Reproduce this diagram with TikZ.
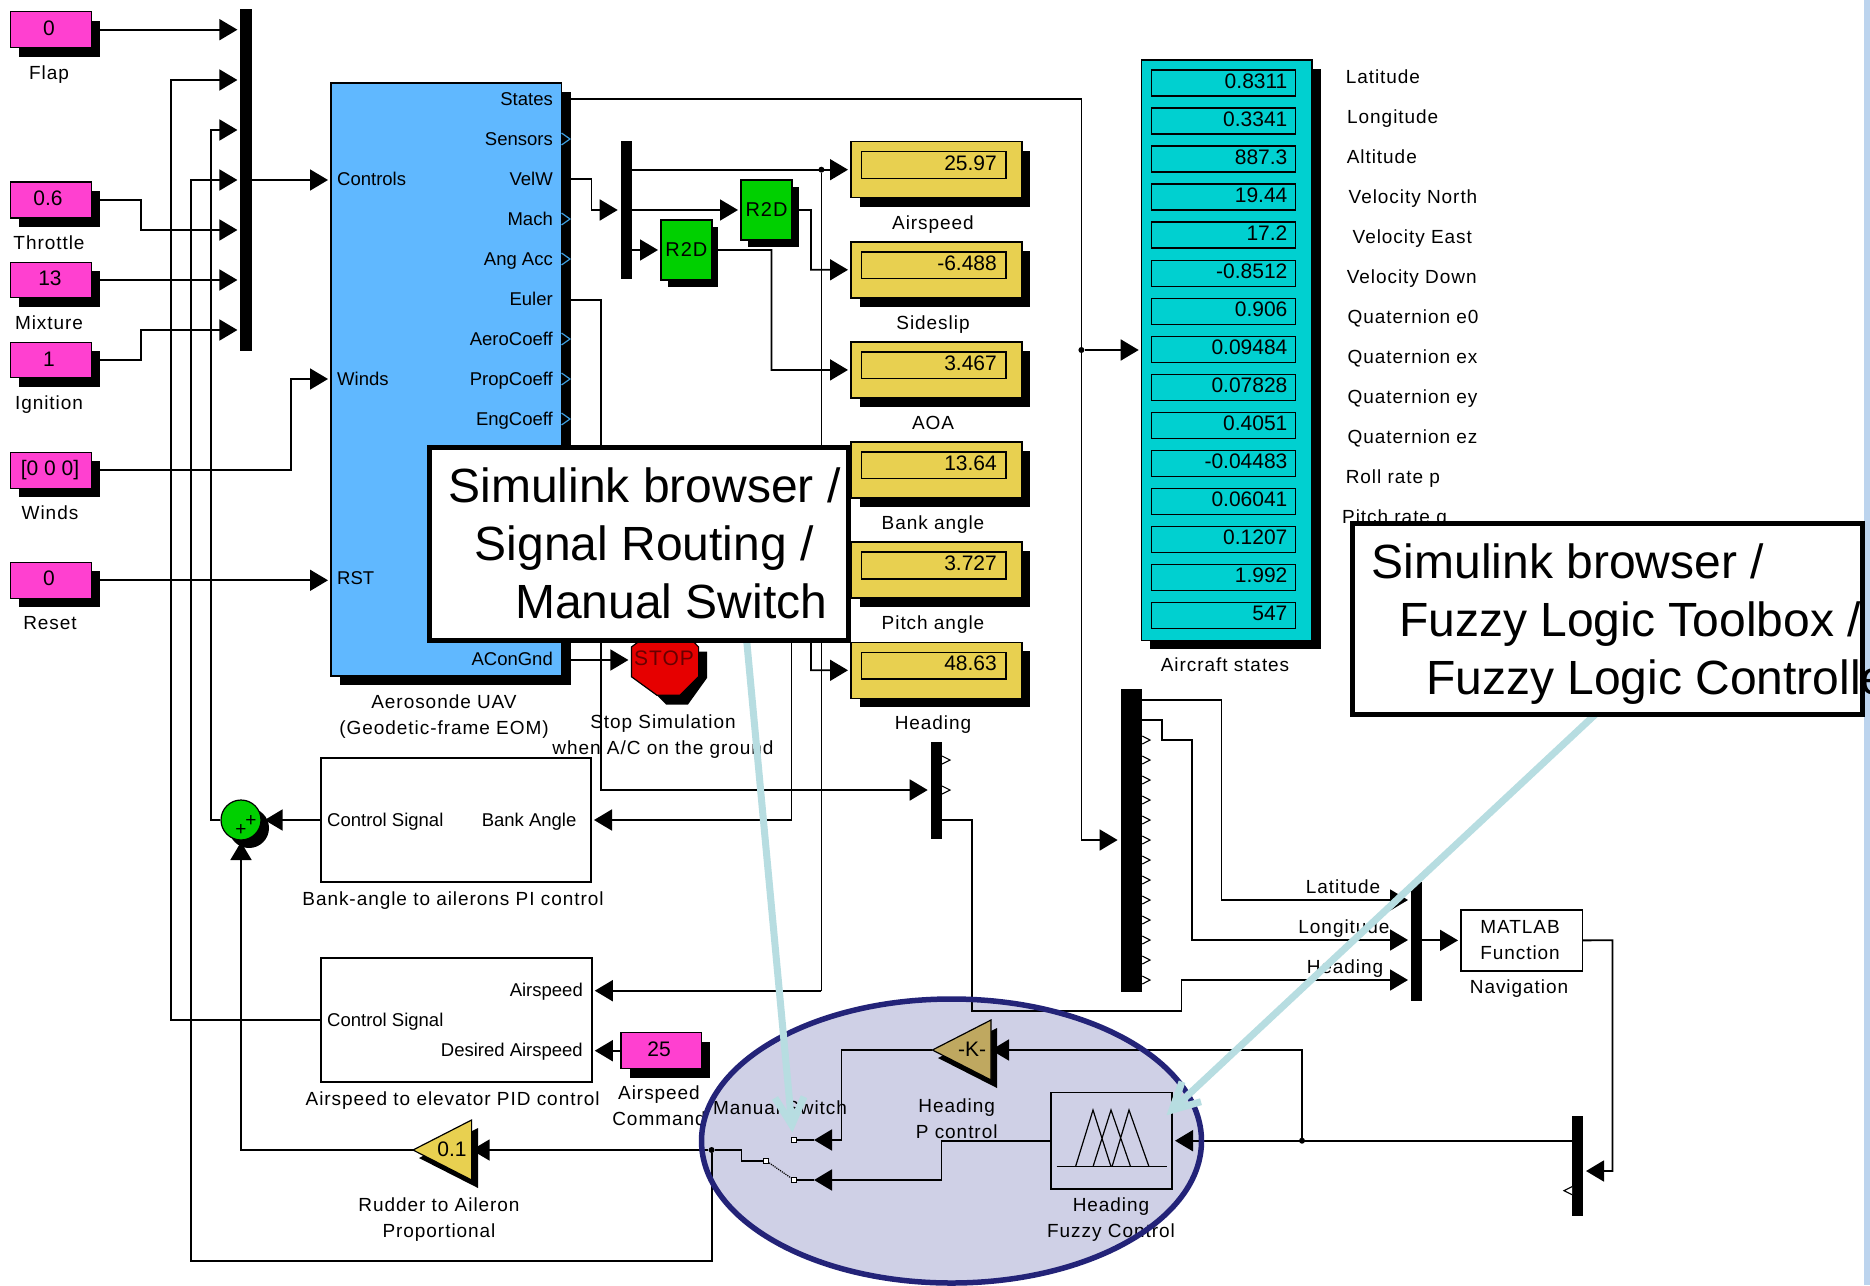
\documentclass[tikz,border=0pt]{standalone}
\usepackage{fontspec}
\setmainfont{Liberation Sans}
\newfontfamily\lblfam[LetterSpace=5]{Liberation Sans}
\usetikzlibrary{arrows.meta,shadows,calc}
\definecolor{cmag}{HTML}{FF40D0}
\definecolor{cblue}{HTML}{60B8FF}
\definecolor{cgold}{HTML}{E8D050}
\definecolor{ccyan}{HTML}{00D0D0}
\definecolor{cgreen}{HTML}{00D000}
\definecolor{cred}{HTML}{E60000}
\definecolor{ckg}{HTML}{BFA860}
\definecolor{cell}{HTML}{CFD0E6}
\definecolor{cnavy}{HTML}{232378}
\definecolor{clight}{HTML}{B7DDE1}
\definecolor{cband}{HTML}{BCD4EE}
\definecolor{cport}{HTML}{3F9FE0}
\tikzset{
  shad/.style={drop shadow={shadow xshift=8.5pt,shadow yshift=-9pt,fill=black,opacity=1}},
  wire/.style={draw=black,line width=1.8pt},
  arr/.style={-{Triangle[length=18pt,width=21pt]},shorten >=3pt},
  arrz/.style={-{Triangle[length=18pt,width=21pt]}},
  bar/.style={fill=black,draw=none},
  src/.style={draw=black,line width=1.5pt,fill=cmag,shad},
  sub/.style={draw=black,line width=1.8pt,fill=white},
  prt/.style={inner sep=0pt,text height=13.5pt,text depth=.5pt,font=\fontsize{18.5}{24}\selectfont},
  lbl/.style={inner sep=0pt,text height=13.5pt,text depth=.5pt,font=\lblfam\fontsize{19}{26}\selectfont},
  mlbl/.style={inner sep=0pt,align=center,font=\lblfam\fontsize{19}{26}\selectfont},
  numv/.style={inner sep=0pt,text height=15pt,text depth=0pt,font=\fontsize{21}{24}\selectfont},
  jdot/.style={circle,fill=black,inner sep=0pt,minimum size=6pt},
  swt/.style={rectangle,draw=black,line width=1.2pt,fill=white,inner sep=0pt,minimum size=5pt},
  lightarr/.style={draw=clight,line width=7pt},
  callout/.style={draw=black,fill=white,line width=5pt,inner sep=0pt},
  bigtxt/.style={inner sep=0pt,align=left,anchor=north west,font=\fontsize{48}{58}\selectfont},
}
\newcommand{\blk}[7]{\node[#2,anchor=north west,inner sep=0pt,outer sep=0pt,minimum width={((#5)-(#3))*1pt},minimum height={((#6)-(#4))*1pt}] (#1) at (#3,#4) {#7};}
\begin{document}
\begin{tikzpicture}[x=1pt,y=-1pt]
\useasboundingbox (0,0) rectangle (1870,1285);
\fill[white] (0,0) rectangle (1870,1285);
\fill[cband] (1864,0) rectangle (1870,1285);

% sources
\blk{flap}{src}{10.7}{11.7}{91.7}{47.7}{}
\blk{thr}{src}{10.7}{182}{91.7}{218}{}
\blk{mix}{src}{10.7}{262.3}{91.7}{297.7}{}
\blk{ign}{src}{10.7}{342.3}{91.7}{377.7}{}
\blk{win}{src}{10.7}{452.3}{91.7}{488.3}{}
\blk{rst}{src}{10.7}{562.3}{91.7}{598.3}{}
\node[numv] (vflap) at (49,28) {0};
\node[numv] (vthr) at (48,198) {0.6};
\node[numv] (vmix) at (50,278) {13};
\node[numv] (vign) at (49,359) {1};
\node[numv] (vwin) at (50,468) {[0 0 0]};
\node[numv] (vrst) at (49,578) {0};
\node[lbl] (lflap) at (49,72.7) {Flap};
\node[lbl] (lthr) at (49,242.7) {Throttle};
\node[lbl] (lmix) at (49,322.7) {Mixture};
\node[lbl] (lign) at (49,403) {Ignition};
\node[lbl] (lwin) at (50,512.7) {Winds};
\node[lbl] (lrst) at (50,622.7) {Reset};

% mux bars
\blk{muxA}{bar}{240.4}{9.3}{252}{350.7}{}
\blk{muxB}{bar}{620.7}{140.7}{632}{279}{}
\blk{muxC}{bar}{930.7}{741.7}{942}{839.3}{}
\blk{muxD}{bar}{1120.6}{689}{1142.3}{991.7}{}
\blk{muxE}{bar}{1411}{881.7}{1422}{1001}{}
\blk{muxF}{bar}{1572}{1116}{1583}{1215.7}{}

% main block
\blk{main}{draw=black,line width=1.5pt,fill=cblue,drop shadow={shadow xshift=9pt,shadow yshift=-8.5pt,fill=black,opacity=1}}{331}{83}{561.5}{676}{}
\node[prt,anchor=west] (pctl) at (337,178.7) {Controls};
\node[prt,anchor=west] (pwin) at (337,379) {Winds};
\node[prt,anchor=west] (prst) at (337,578) {RST};
\foreach \t/\y [count=\i] in {States/99,Sensors/139,VelW/179,Mach/219,Ang Acc/259,Euler/299,AeroCoeff/339,PropCoeff/379,EngCoeff/419,AConGnd/659}
  \node[prt,anchor=east] (po\i) at (553,\y) {\t};
\foreach \y in {139,219,259,339,379,419}
  \draw[cport,line width=1.2pt] (561.5,\y-6) -- (570,\y) -- (561.5,\y+6);
\node[mlbl] (lmain) at (444,716.5) {Aerosonde UAV\\(Geodetic-frame EOM)};

% R2D
\blk{rda}{draw=black,line width=1.5pt,fill=cgreen,drop shadow={shadow xshift=6.5pt,shadow yshift=-7pt,fill=black,opacity=1},font=\lblfam\fontsize{20}{24}\selectfont}{741}{180}{792}{240}{R2D}
\blk{rdb}{draw=black,line width=1.5pt,fill=cgreen,drop shadow={shadow xshift=6.5pt,shadow yshift=-7pt,fill=black,opacity=1},font=\lblfam\fontsize{20}{24}\selectfont}{661}{220}{711.8}{280}{R2D}

% displays
\foreach \v/\l [count=\i] in {25.97/Airspeed,-6.488/Sideslip,3.467/AOA,13.64/Bank angle,3.727/Pitch angle,48.63/Heading}{
  \pgfmathsetmacro{\ty}{141.7+100.12*(\i-1)}
  \blk{disp\i}{draw=black,line width=1.5pt,fill=cgold,shad}{851}{\ty}{1021.8}{\ty+56}{}
  \blk{dispin\i}{draw=black,line width=1.5pt}{861.4}{\ty+10}{1006}{\ty+36.6}{}
  \node[numv,anchor=east] (dv\i) at (997,\ty+21) {\v};
  \node[lbl] (dl\i) at (933,\ty+81) {\l};
}

% state panel
\blk{panel}{draw=black,line width=1.5pt,fill=ccyan,shad}{1141.7}{60}{1312}{640.4}{}
\foreach \v [count=\i] in {0.8311,0.3341,887.3,19.44,17.2,-0.8512,0.906,0.09484,0.07828,0.4051,-0.04483,0.06041,0.1207,1.992,547}{
  \pgfmathsetmacro{\ty}{70+38.05*(\i-1)}
  \blk{row\i}{draw=black,line width=1.5pt}{1151.6}{\ty}{1295.5}{\ty+26}{}
  \node[numv,anchor=east] (rv\i) at (1287.6,\ty+10.5) {\v};
}
\node[lbl] (lpanel) at (1225,665) {Aircraft states};
\foreach \t/\x [count=\i] in {Latitude/1345.6,Longitude/1347,Altitude/1346.6,Velocity North/1348.5,Velocity East/1352.5,Velocity Down/1346.6,Quaternion e0/1347.5,Quaternion ex/1347.5,Quaternion ey/1347.5,Quaternion ez/1347.5,Roll rate p/1345.6,Pitch rate q/1342}{
  \pgfmathsetmacro{\ty}{76.6+40.05*(\i-1)}
  \node[lbl,anchor=west] (rl\i) at (\x,\ty) {\t};
}

% stop
\fill[black] (640,651.5) -- (707,651.5) -- (707,678) -- (688,704.5) -- (666,704.5) -- (640,678) -- cycle;
\draw[draw=black,line width=1.2pt,fill=cred] (657,628) -- (680,628) -- (698.6,647) -- (698.6,676.7) -- (680,695.3) -- (657,695.3) -- (631.4,676.7) -- (631.4,647) -- cycle;
\coordinate (stopin) at (631.4,660);
\node[inner sep=0pt,text height=15pt,text depth=0pt,text=black!55!cred,font=\lblfam\fontsize{21}{24}\selectfont] (stop) at (664,658) {STOP};
\node[mlbl] (lstop) at (663,736.5) {Stop Simulation\\when A/C on the ground};

% subsystems
\blk{bank}{sub}{321}{758}{591}{882}{}
\node[prt,anchor=west] (bkc) at (327,819.5) {Control Signal};
\node[prt,anchor=east] (bka) at (576.6,819.5) {Bank Angle};
\node[lbl] (lbank) at (453,899) {Bank-angle to ailerons PI control};
\blk{pid}{sub}{321}{958.3}{591.8}{1082.3}{}
\node[prt,anchor=west] (pdc) at (327,1019.5) {Control Signal};
\node[prt,anchor=east] (pda) at (583,989.5) {Airspeed};
\node[prt,anchor=east] (pdd) at (583,1049.5) {Desired Airspeed};
\node[lbl] (lpid) at (452.6,1099) {Airspeed to elevator PID control};
\blk{cmd}{src}{621}{1032.7}{701.7}{1068.7}{}
\node[numv] (vcmd) at (659,1049) {25};
\node[mlbl] (lcmd) at (659,1106) {Airspeed\\Command};

% sum
\node[circle,draw=black,line width=1.2pt,fill=cgreen,minimum size=40pt,inner sep=0pt,drop shadow={shadow xshift=8pt,shadow yshift=-8pt,fill=black,opacity=1}] (sum) at (241,820) {};
\node[inner sep=0pt,font=\fontsize{19}{19}\selectfont] (sa) at (251,820.7) {+};
\node[inner sep=0pt,font=\fontsize{19}{19}\selectfont] (sb) at (241,830) {+};

% rudder gain
\fill[black] (419,1158) -- (478,1128) -- (478,1188) -- cycle;
\draw[draw=black,line width=1.2pt,fill=cgold] (413,1150) -- (471.6,1120) -- (471.6,1180) -- cycle;
\coordinate (rgout) at (413,1150);
\coordinate (rgin) at (471.6,1150);
\node[numv] (rg) at (452,1149) {0.1};
\node[mlbl] (lrg) at (439,1220) {Rudder to Aileron\\Proportional};

% navigation
\blk{nav}{sub}{1461}{910}{1582.4}{970.7}{}
\node[mlbl] (tnav) at (1520,940) {MATLAB\\Function};
\node[lbl] (lnav) at (1519,987) {Navigation};
\node[lbl] (ll1) at (1343,886.7) {Latitude};
\node[lbl] (ll2) at (1344,927) {Longitude};
\node[lbl] (ll3) at (1345,967) {Heading};

% demux port marks
\foreach \y in {740,760,...,980}
  \draw[fill=white,draw=black,line width=1.1pt] (1142.3,\y-4) -- (1150,\y) -- (1142.3,\y+4);
\foreach \y in {760,790}
  \draw[fill=white,draw=black,line width=1.1pt] (942,\y-4) -- (950,\y) -- (942,\y+4);
\draw[fill=white,draw=black,line width=1.1pt] (1572,1186.7) -- (1564,1190.7) -- (1572,1194.7);

% ellipse (covers Command)
\fill[cell] (951.5,1141) ellipse [x radius=250,y radius=142];

% ellipse contents
\fill[black] (938,1058) -- (997,1028) -- (997,1088) -- cycle;
\draw[draw=black,line width=1.2pt,fill=ckg] (932.4,1050) -- (991,1020) -- (991,1080) -- cycle;
\coordinate (kout) at (932.4,1050);
\coordinate (kin) at (991,1050);
\node[numv] (kg) at (972,1049) {-K-};
\node[mlbl] (lk) at (956.7,1118.5) {Heading\\P control};
\blk{fuz}{draw=black,line width=1.5pt}{1051}{1092.7}{1172}{1189}{}
\draw[black,line width=1.5pt] (1056.7,1166.7) -- (1167,1166.7);
\draw[black,line width=1.2pt] (1075.5,1166.7) -- (1093,1110) -- (1111,1166.7) (1093,1166.7) -- (1111,1110) -- (1130.6,1166.7) (1112,1166.7) -- (1129,1110) -- (1149,1166.7);
\node[mlbl] (lfuz) at (1111,1219.5) {Heading\\Fuzzy Control};
\node[lbl] (lsw) at (780,1107.7) {Manual Switch};
\node[swt] (swa) at (766,1160.7) {};
\node[swt] (swb) at (794,1140) {};
\node[swt] (swc) at (794,1180) {};
\coordinate (swbin) at (814,1140);
\coordinate (swcin) at (814,1180);
\draw[black,line width=1.2pt,densely dotted] (swa) -- (swc);

% junctions
\node[jdot] (j1) at (711.6,1150) {};
\node[jdot] (j2) at (1302,1140.7) {};
\node[jdot] (j3) at (1081.4,350) {};
\node[jdot] (j4) at (821.4,169.7) {};

% connectors
\draw[wire,arr] (flap.east) -- (flap.east -| muxA.west);
\draw[wire,arr] (thr.east) -- (141,200) -- (141,230) -- (240.4,230);
\draw[wire,arr] (mix.east) -- (mix.east -| muxA.west);
\draw[wire,arr] (ign.east) -- (141,360) -- (141,330) -- (240.4,330);
\draw[wire,arr] (muxA.east |- 0,180) -- (331,180);
\draw[wire,arr] (win.east) -- (291,470.3) -- (291,379) -- (331,379);
\draw[wire,arr] (rst.east) -- (rst.east -| main.west);
\draw[wire,arr] (pid.west) -- (171,1020.3) -- (171,80) -- (240.4,80);
\draw[wire,arr] (j1) -- (711.6,1260.7) -- (191,1260.7) -- (191,180) -- (240.4,180);
\draw[wire,arr] (sum.west) -- (211,820) -- (211,130) -- (240.4,130);
\draw[wire,arr] (bank.west) -- (sum.east);
\draw[wire,arrz] (rgout) -- (241,1150) -- (241,842);
\draw[wire,arr] (570,99) -- (1081.4,99) -- (1081.4,840) -- (muxD.west |- 0,840);
\draw[wire,arr] (j3) -- (1141.7,350);
\draw[wire,arr] (570,179) -- (591.4,179) -- (591.4,210) -- (muxB.west |- 0,210);
\draw[wire,arr] (632,210) -- (rda.west |- 0,210);
\draw[wire,arr] (632,250) -- (rdb.west);
\draw[wire,arr] (632,169.7) -- (disp1.west);
\draw[wire,arr] (798,210) -- (811,210) -- (811,269.8) -- (disp2.west);
\draw[wire,arr] (718,250) -- (771.4,250) -- (771.4,369.9) -- (disp3.west);
\draw[wire] (j4) -- (821.4,990.7);
\draw[wire,arr] (821.4,990.7) -- (591.8,990.7);
\draw[wire,arr] (811,640) -- (811,670.3) -- (disp6.west);
\draw[wire,arr] (570,300) -- (601,300) -- (601,790) -- (muxC.west |- 0,790);
\draw[wire,arr] (570,660) -- (stopin);
\draw[wire,arr] (791.4,640) -- (791.4,820) -- (bank.east);
\draw[wire,arr] (cmd.west) -- (pid.east |- cmd.west);
\draw[wire,arrz] (j1) -- (rgin);
\draw[wire] (j1) -- (741.5,1150) -- (741.5,1160.7) -- (swa);
\draw[wire,arrz] (kout) -- (841.5,1050) -- (841.5,1140) -- (swbin);
\draw[wire] (swbin) -- (swb);
\draw[wire,arrz] (fuz.west |- 0,1140.7) -- (941.5,1140.7) -- (941.5,1180) -- (swcin);
\draw[wire] (swcin) -- (swc);
\draw[wire,arrz] (j2) -- (1302,1050) -- (kin);
\draw[wire,arr] (muxF.west |- 0,1140.7) -- (1172,1140.7);
\draw[wire,arr] (nav.east) -- (1612.4,940.3) -- (1612.4,1171) -- (muxF.east |- 0,1171);
\draw[wire,arr] (muxE.east |- nav.west) -- (nav.west);
\draw[wire,arr] (1142.3,700) -- (1221.5,700) -- (1221.5,900) -- (muxE.west |- 0,900);
\draw[wire,arr] (1142.3,720) -- (1161.6,720) -- (1161.6,740) -- (1191.6,740) -- (1191.6,940) -- (muxE.west |- 0,940);
\draw[wire,arr] (942,820) -- (971.8,820) -- (971.8,1010.7) -- (1181.5,1010.7) -- (1181.5,980) -- (muxE.west |- 0,980);

% ellipse outline
\draw[cnavy,line width=5.5pt] (951.5,1141) ellipse [x radius=250,y radius=142];

% light arrows
\coordinate (t1) at (791.8,1125);
\coordinate (t2) at (1172,1110);
\draw[lightarr] (745.7,630) -- (t1);
\draw[lightarr] (775,1098) -- (t1) -- (804,1096.7);
\draw[lightarr] (1600,710) -- (t2);
\draw[lightarr] (1182,1081.7) -- (t2) -- (1201,1101.7);

% callouts
\blk{cba}{callout}{429}{447}{848}{640}{}
\node[bigtxt] (cbat) at (448.4,468) {Simulink browser /\\\hspace*{26.3pt}Signal Routing /\\\hspace*{66.6pt}Manual Switch};
\blk{cbb}{callout}{1352}{523}{1862}{714}{}
\begin{scope}
\clip (0,0) rectangle (1870,1285);
\node[bigtxt] (cbbt) at (1371.5,544) {Simulink browser /\\\hspace*{27.5pt}Fuzzy Logic Toolbox /\\\hspace*{54.5pt}Fuzzy Logic Controller};
\end{scope}
\end{tikzpicture}
\end{document}
